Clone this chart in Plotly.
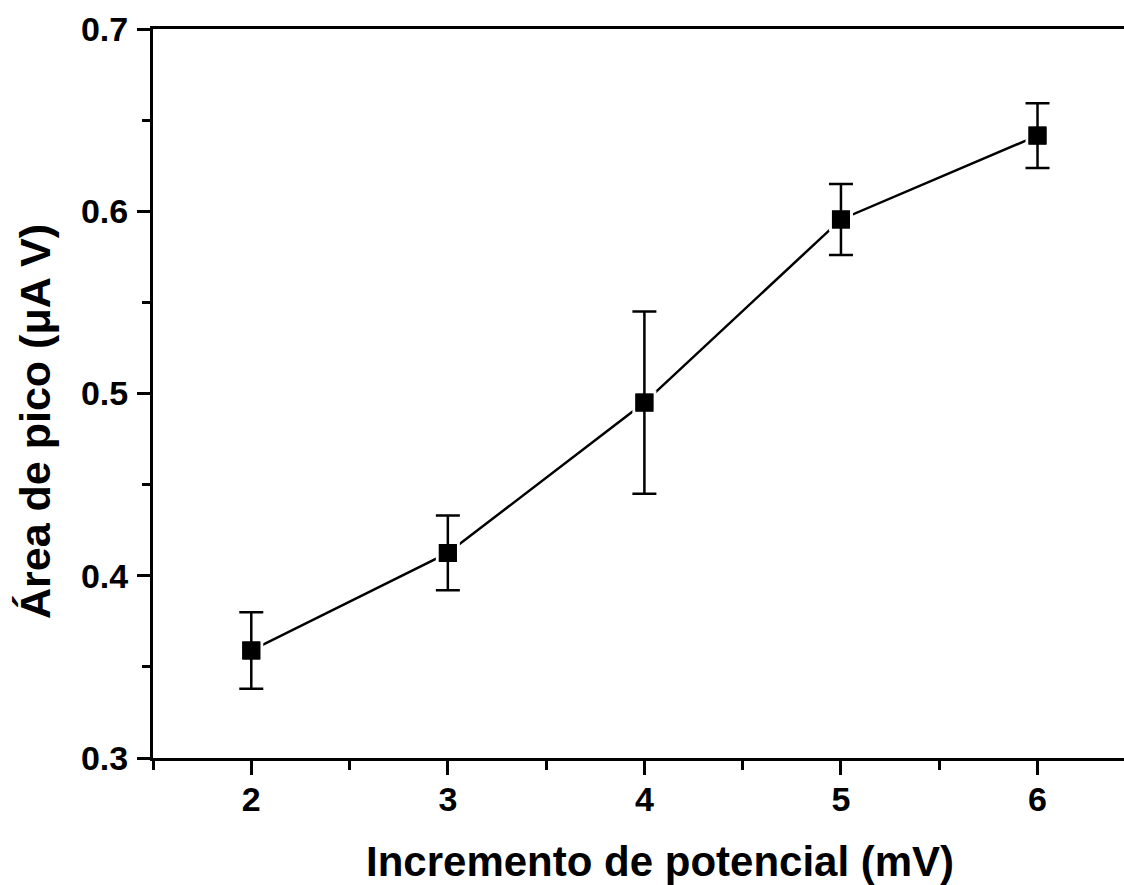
import plotly.graph_objects as go

x_vals = [2, 3, 4, 5, 6]
y_vals = [0.359, 0.4125, 0.495, 0.5955, 0.6415]
y_err = [0.021, 0.0205, 0.050, 0.0195, 0.0178]

x_title = "Incremento de potencial (mV)"
y_title = "Área de pico (μA V)"

FONT = "Liberation Sans, Arial, sans-serif"

fig = go.Figure()
# line + markers (white outline creates the small gap between line and marker)
fig.add_trace(go.Scatter(
    x=x_vals, y=y_vals, mode="lines+markers",
    line=dict(color="black", width=2.5),
    marker=dict(symbol="square", size=21, color="black",
                line=dict(color="white", width=3)),
    showlegend=False, hoverinfo="skip",
))
# error bars drawn above
fig.add_trace(go.Scatter(
    x=x_vals, y=y_vals, mode="markers",
    marker=dict(symbol="square", size=18, color="black"),
    error_y=dict(type="data", array=y_err, visible=True, color="black",
                 thickness=2.5, width=12),
    showlegend=False, hoverinfo="skip",
))

fig.update_layout(
    width=1124, height=885,
    margin=dict(l=153, r=0, t=29, b=127),
    plot_bgcolor="white", paper_bgcolor="white",
    font=dict(family=FONT, color="black"),
    annotations=[
        dict(text="<b>%s</b>" % x_title, xref="paper", yref="paper",
             x=0.522, y=-0.1413, xanchor="center", yanchor="middle",
             showarrow=False, font=dict(size=42, family=FONT, color="black")),
        dict(text="<b>%s</b>" % y_title, xref="paper", yref="paper",
             x=-0.1215, y=0.461, xanchor="center", yanchor="middle", textangle=-90,
             showarrow=False, font=dict(size=43, family=FONT, color="black")),
    ],
)
fig.update_xaxes(
    range=[1.5, 6.44], tick0=2, dtick=1,
    ticks="outside", ticklen=14, tickwidth=2.5, tickcolor="black",
    minor=dict(dtick=0.5, tick0=1.5, ticks="outside", ticklen=9, tickwidth=2.5, tickcolor="black"),
    showline=True, linewidth=3, linecolor="black", mirror=True,
    showgrid=False, zeroline=False,
    tickfont=dict(size=34, family=FONT, weight="bold"),
    ticklabelstandoff=-5,
)
fig.update_yaxes(
    range=[0.3, 0.7], tick0=0.3, dtick=0.1, tickformat=".1f",
    ticks="outside", ticklen=13, tickwidth=2.5, tickcolor="black",
    minor=dict(dtick=0.05, tick0=0.3, ticks="outside", ticklen=8, tickwidth=2.5, tickcolor="black"),
    showline=True, linewidth=3, linecolor="black", mirror=False,
    showgrid=False, zeroline=False,
    tickfont=dict(size=34, family=FONT, weight="bold"),
    ticklabelstandoff=2,
)

fig.write_html("out.html")
